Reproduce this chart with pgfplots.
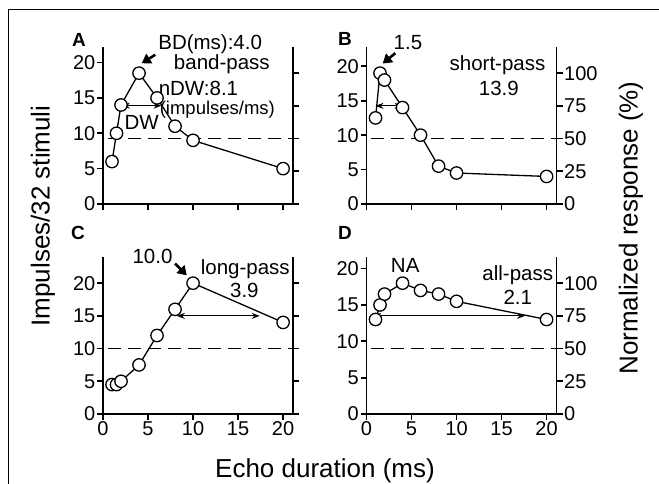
\documentclass[border=0pt]{standalone}
\usepackage{fontspec}
\setmainfont{Liberation Sans}
\usepackage{pgfplots}
\pgfplotsset{compat=1.18}
\usetikzlibrary{arrows.meta}

\newcommand{\ticksize}{\fontsize{20}{22}\selectfont}
\newcommand{\annsize}{\fontsize{20.5}{22}\selectfont}
\newcommand{\labsize}{\fontsize{26}{29}\selectfont}

\pgfplotsset{
  panel/.style={scale only axis, width=196.3pt, height=157pt,
    xmin=0, xmax=21.8, ymin=0,
    axis x line*=bottom, axis y line*=left,
    axis line style={line width=1.9pt},
    tick align=outside, major tick length=6pt,
    tick style={black, line width=1.7pt},
    xtick={0,5,10,15,20}, ytick={0,5,10,15,20},
    tick label style={font=\ticksize, inner sep=1.5pt},
    /pgf/number format/assume math mode=true,
    clip=false},
  rpanel/.style={scale only axis, width=190pt, height=157pt,
    xmin=0, xmax=21.1, ymin=0, ymax=120,
    axis x line=none, axis y line*=right,
    axis line style={line width=1.9pt},
    tick align=outside, major tick length=6pt,
    tick style={black, line width=1.7pt},
    ytick={0,25,50,75,100},
    tick label style={font=\ticksize, inner sep=1.5pt},
    /pgf/number format/assume math mode=true,
    clip=false},
  resp/.style={black, line width=1.3pt, mark=*, mark size=6.2pt,
    mark options={fill=white, draw=black, line width=1.3pt, solid}},
  half/.style={black, line width=0.9pt, dash pattern=on 13pt off 7pt},
}
\tikzset{
  dw/.style={line width=1pt, {Stealth[length=8pt,width=6pt]}-{Stealth[length=8pt,width=6pt]}},
  big/.style={line width=2.6pt, -{Triangle[length=9pt,width=11pt]}},
  ann/.style={font=\annsize, inner sep=0pt},
  plab/.style={font=\fontsize{19}{21}\selectfont\bfseries, inner sep=0pt},
}

\begin{document}
\begin{tikzpicture}
\useasboundingbox (0,0) rectangle (659pt,484pt);
\draw[line width=1pt] (8.3pt,0pt) -- (8.3pt,474pt) -- (659pt,474pt);

% ---------- A: band-pass
\begin{axis}[rpanel, at={(103pt,280pt)}, anchor=south west, yticklabels={}]
\addplot[half] coordinates {(0.5,50)(21.1,50)};
\end{axis}
\begin{axis}[panel, at={(103pt,280pt)}, anchor=south west, ymax=22.2, xticklabels={}]
\addplot[resp] coordinates {(1,6)(1.5,10)(2,14)(4,18.5)(6,15)(8,11)(10,9)(20,5)};
\draw[dw] (axis cs:2.1,13.9) -- (axis cs:6.5,13.9);
\draw[big] (axis cs:5.8,21.1) -- (axis cs:4.3,19.9);
\node[ann] at (axis cs:11.9,22.6) {BD(ms):4.0};
\node[ann] at (axis cs:13.2,19.8) {band-pass};
\node[ann] at (axis cs:10.6,16.3) {nDW:8.1};
\node[ann, font=\fontsize{18.5}{20}\selectfont] at (axis cs:12.7,13.4) {(impulses/ms)};
\node[ann] at (axis cs:4.3,11.6) {DW};
\end{axis}

% ---------- B: short-pass
\begin{axis}[rpanel, at={(366.5pt,280pt)}, anchor=south west]
\addplot[half] coordinates {(0.5,50)(21.1,50)};
\end{axis}
\begin{axis}[panel, at={(366.5pt,280pt)}, anchor=south west, ymax=22.8, xticklabels={}]
\addplot[resp] coordinates {(1,12.5)(1.5,19)(2,18)(4,14)(6,10)(8,5.5)(10,4.5)(20,4)};
\draw[dw] (axis cs:1.0,14.25) -- (axis cs:4.0,14.25);
\draw[big] (axis cs:3.2,21.9) -- (axis cs:1.8,20.4);
\node[ann] at (axis cs:4.6,23.4) {1.5};
\node[ann] at (axis cs:14.55,20.1) {short-pass};
\node[ann] at (axis cs:14.7,16.8) {13.9};
\end{axis}

% ---------- C: long-pass
\begin{axis}[rpanel, at={(103pt,70pt)}, anchor=south west, yticklabels={}]
\addplot[half] coordinates {(0.5,50)(21.1,50)};
\end{axis}
\begin{axis}[panel, at={(103pt,70pt)}, anchor=south west, ymax=24]
\addplot[resp] coordinates {(1,4.5)(1.5,4.5)(2,5)(4,7.5)(6,12)(8,16)(10,20)(20,14)};
\draw[dw] (axis cs:8.2,15) -- (axis cs:17.4,15);
\draw[big] (axis cs:8.0,23.0) -- (axis cs:9.3,21.2);
\node[ann] at (axis cs:5.5,24.1) {10.0};
\node[ann] at (axis cs:15.8,22.2) {long-pass};
\node[ann] at (axis cs:15.7,18.9) {3.9};
\end{axis}

% ---------- D: all-pass
\begin{axis}[rpanel, at={(366.5pt,70pt)}, anchor=south west]
\addplot[half] coordinates {(0.5,50)(21.1,50)};
\end{axis}
\begin{axis}[panel, at={(366.5pt,70pt)}, anchor=south west, ymax=21.6]
\addplot[resp] coordinates {(1,13)(1.5,15)(2,16.5)(4,18)(6,17)(8,16.5)(10,15.5)(20,13)};
\draw[dw] (axis cs:0.75,13.5) -- (axis cs:17.6,13.5);
\node[ann] at (axis cs:4.3,20.5) {NA};
\node[ann] at (axis cs:16.8,19.1) {all-pass};
\node[ann] at (axis cs:16.8,16.0) {2.1};
\end{axis}

% panel letters and axis titles
\node[plab] at (79pt,444pt) {A};
\node[plab] at (345pt,445.5pt) {B};
\node[plab] at (78pt,251pt) {C};
\node[plab] at (345pt,251pt) {D};
\node[font=\labsize, rotate=90, inner sep=0pt] at (43pt,268pt) {Impulses/32 stimuli};
\node[font=\labsize, rotate=90, inner sep=0pt] at (631pt,256pt) {Normalized response (\%)};
\node[font=\labsize, anchor=base, inner sep=0pt] at (325pt,6pt) {Echo duration (ms)};
\end{tikzpicture}
\end{document}
